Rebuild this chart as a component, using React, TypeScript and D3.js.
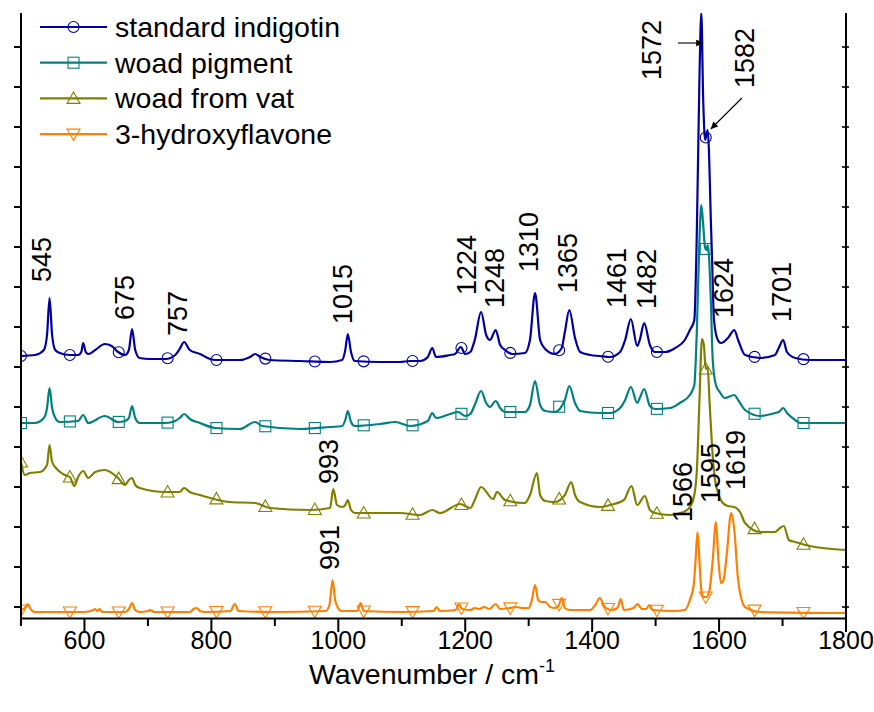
import React from "react";
import * as d3 from "d3";

// ---------- data (wavenumber cm-1, stacked intensity a.u.) ----------
const indigotin: [number, number][] = [
  [500, 251], [522, 252], [536, 257], [541, 272], [545, 309], [549, 272], [554, 257], [561, 254],
  [577, 252], [590, 252], [595, 255], [598, 264], [602, 255], [606, 253], [617, 257], [632, 263],
  [643, 261], [653, 255], [664, 252], [670, 257], [675, 278], [680, 257], [687, 249], [703, 248],
  [728, 248], [743, 252], [750, 258], [757, 265], [766, 257], [782, 253], [798, 248], [806, 247],
  [845, 247], [861, 250], [869, 253], [877, 250], [892, 247], [940, 246], [987, 245], [1006, 247],
  [1011, 257], [1015, 273], [1020, 255], [1026, 246], [1066, 245], [1097, 245], [1113, 246],
  [1129, 246], [1141, 250], [1148, 259], [1154, 250], [1176, 252], [1184, 253], [1193, 260],
  [1200, 253], [1208, 255], [1215, 267], [1225, 295], [1233, 272], [1239, 267], [1248, 277],
  [1255, 262], [1263, 257], [1274, 253], [1294, 254], [1302, 267], [1310, 314], [1318, 267],
  [1326, 258], [1341, 253], [1352, 259], [1357, 275], [1364, 297], [1373, 269], [1381, 255],
  [1397, 252], [1412, 251], [1428, 250], [1444, 255], [1452, 267], [1461, 288], [1471, 261],
  [1475, 267], [1482, 284], [1491, 262], [1499, 255], [1515, 255], [1531, 259], [1546, 267],
  [1554, 277], [1561, 287], [1565, 377], [1569, 527], [1572, 594], [1575, 507], [1578, 467],
  [1580, 472], [1582, 477], [1584, 457], [1587, 387], [1589, 347], [1592, 287], [1598, 267],
  [1603, 264], [1614, 269], [1624, 277], [1630, 267], [1641, 252], [1665, 249], [1688, 252],
  [1694, 259], [1701, 267], [1707, 255], [1720, 249], [1743, 247], [1775, 247], [1800, 247],
];

const woadPigment: [number, number][] = [
  [500, 184], [522, 184], [536, 189], [541, 199], [545, 219], [549, 199], [554, 189], [561, 185],
  [590, 186], [598, 192], [606, 184], [632, 191], [653, 185], [664, 186], [670, 189], [675, 201],
  [680, 189], [687, 184], [728, 184], [743, 186], [750, 189], [757, 193], [766, 188], [782, 184],
  [806, 179], [845, 178], [869, 185], [880, 181], [940, 178], [987, 180], [1006, 181], [1011, 187],
  [1015, 196], [1020, 185], [1026, 181], [1066, 183], [1090, 185], [1113, 181], [1141, 186],
  [1148, 194], [1154, 189], [1176, 193], [1189, 195], [1200, 191], [1208, 193], [1215, 202],
  [1225, 216], [1233, 204], [1239, 200], [1248, 206], [1255, 199], [1263, 195], [1294, 195],
  [1302, 202], [1310, 226], [1318, 202], [1326, 196], [1341, 195], [1357, 207], [1364, 221],
  [1373, 204], [1381, 196], [1412, 194], [1428, 194], [1444, 199], [1452, 207], [1461, 220],
  [1471, 204], [1475, 209], [1482, 218], [1491, 201], [1499, 198], [1523, 199], [1538, 204],
  [1554, 212], [1561, 222], [1565, 277], [1569, 367], [1572, 402], [1575, 382], [1578, 359],
  [1580, 357], [1582, 362], [1584, 352], [1587, 307], [1590, 247], [1595, 222], [1601, 215],
  [1609, 209], [1624, 212], [1630, 207], [1641, 197], [1665, 191], [1688, 194], [1694, 195],
  [1701, 199], [1707, 194], [1720, 187], [1728, 184], [1800, 184],
];

const woadVat: [number, number][] = [
  [500, 145], [506, 132], [514, 134], [530, 135], [541, 142], [545, 162], [549, 145], [558, 137],
  [569, 132], [577, 130], [584, 121], [590, 130], [598, 136], [606, 129], [617, 135], [632, 137],
  [653, 129], [664, 122], [670, 127], [675, 129], [680, 122], [687, 119], [728, 115], [750, 115],
  [757, 119], [766, 115], [782, 112], [829, 105], [869, 104], [892, 99], [955, 97], [987, 99],
  [992, 118], [998, 102], [1006, 100], [1011, 102], [1015, 107], [1020, 97], [1026, 94], [1097, 94],
  [1129, 92], [1148, 97], [1160, 94], [1192, 103], [1208, 99], [1215, 107], [1225, 120], [1244, 108],
  [1250, 115], [1263, 107], [1294, 104], [1302, 112], [1313, 134], [1318, 112], [1326, 106],
  [1341, 105], [1357, 112], [1367, 125], [1373, 112], [1381, 105], [1412, 100], [1428, 102],
  [1450, 107], [1462, 121], [1471, 102], [1483, 111], [1491, 97], [1499, 94], [1523, 92], [1544, 95],
  [1554, 100], [1561, 112], [1565, 137], [1569, 205], [1573, 268], [1576, 262], [1579, 238],
  [1582, 240], [1585, 205], [1589, 160], [1593, 130], [1598, 115], [1606, 104], [1614, 101],
  [1624, 100], [1633, 95], [1641, 84], [1665, 75], [1688, 75], [1696, 79], [1702, 81], [1710, 67],
  [1720, 65], [1743, 61], [1800, 57],
];

const hydroxyflavone: [number, number][] = [
  [500, -3], [506, -1], [511, 3], [514, -1], [522, -5], [600, -5], [614, -3], [617, -2], [620, -4],
  [624, -2], [628, -5], [664, -5], [670, -2], [675, 4], [680, -3], [687, -5], [700, -4], [703, -3],
  [710, -5], [766, -5], [772, -2], [777, -1], [782, -4], [790, -5], [830, -4], [837, 3], [843, -4],
  [900, -5], [980, -4], [986, 2], [991, 27], [995, 7], [998, 1], [1005, -4], [1030, -4], [1035, 4],
  [1040, -4], [1100, -5], [1150, -4], [1155, 0], [1160, -4], [1185, -3], [1190, 3], [1195, -2],
  [1208, -3], [1215, -1], [1222, -2], [1230, 0], [1238, -2], [1248, 3], [1255, -2], [1270, -1],
  [1280, 0], [1290, -1], [1300, -1], [1305, 7], [1310, 22], [1315, 7], [1320, 5], [1326, 5],
  [1334, 0], [1341, -1], [1347, 1], [1352, 9], [1357, -1], [1365, -3], [1397, -3], [1405, 2],
  [1412, 9], [1420, 0], [1430, -3], [1440, -1], [1445, 8], [1450, -3], [1465, -1], [1472, 3],
  [1478, -2], [1485, -2], [1490, 2], [1495, -3], [1530, -4], [1546, -3], [1554, 7], [1560, 22],
  [1563, 47], [1566, 75], [1569, 47], [1572, 17], [1576, 10], [1580, 10], [1585, 17], [1590, 47],
  [1595, 85], [1599, 47], [1603, 24], [1607, 27], [1612, 52], [1619, 94], [1624, 77], [1630, 27],
  [1641, 0], [1665, -5], [1800, -6],
];

const seriesNames = ["standard indigotin", "woad pigment", "woad from vat", "3-hydroxyflavone"];
const seriesColors = ["#0000A0", "#008080", "#808000", "#FF8000"];
const seriesSymbols = ["circle", "square", "triangle", "triangleDown"];
const seriesData = [indigotin, woadPigment, woadVat, hydroxyflavone];

const markerWavenumbers = [500, 577, 654, 731, 808, 885, 963, 1040, 1117, 1194, 1271, 1348, 1425, 1502, 1579, 1656, 1733];

const xTicksMajor = [600, 800, 1000, 1200, 1400, 1600, 1800];
const xTicksMinor = [500, 700, 900, 1100, 1300, 1500, 1700];
const yTicks = [0, 40, 80, 120, 160, 200, 240, 280, 320, 360, 400, 440, 480, 520, 560];

// peak labels: text, label centre wavenumber, bottom intensity
const peakLabels: [string, number, number][] = [
  ["545", 532, 325], ["675", 663, 287], ["757", 747, 271], ["1015", 1007, 283],
  ["1224", 1201, 312], ["1248", 1245, 299], ["1310", 1300, 335], ["1365", 1361, 314],
  ["1461", 1438, 299], ["1482", 1485, 298], ["1624", 1607, 289], ["1701", 1698, 285],
  ["1572", 1493, 527], ["1582", 1639, 519],
  ["993", 984, 123], ["991", 986, 37], ["1566", 1542, 85], ["1595", 1586, 104], ["1619", 1625, 117],
];

// arrows: from (wn, intensity) to (wn, intensity)
const arrows: [number, number, number, number][] = [
  [1535, 564, 1575, 564],
  [1636, 509, 1587, 478],
];

// ---------- layout ----------
const W = 874;
const H = 712;
const x = d3.scaleLinear().domain([500, 1800]).range([21, 846]);
const y = d3.scaleLinear().domain([-11, 594]).range([618, 13]);
const FONT = "'Liberation Sans', Arial, Helvetica, sans-serif";

function interp(data: [number, number][], wn: number): number {
  for (let i = 0; i < data.length - 1; i++) {
    const [x0, y0] = data[i];
    const [x1, y1] = data[i + 1];
    if (wn >= x0 && wn <= x1) return y0 + ((wn - x0) / (x1 - x0)) * (y1 - y0);
  }
  return data[data.length - 1][1];
}

function Marker({ type, cx, cy, color }: { type: string; cx: number; cy: number; color: string }) {
  const common = { fill: "none", stroke: color, strokeWidth: 1.1 };
  if (type === "circle") return <circle cx={cx} cy={cy} r={5.5} {...common} />;
  if (type === "square") return <rect x={cx - 5.5} y={cy - 5.5} width={11} height={11} {...common} />;
  if (type === "triangle") {
    const p = `${cx},${cy - 6.5} ${cx - 6.5},${cy + 5} ${cx + 6.5},${cy + 5}`;
    return <polygon points={p} {...common} />;
  }
  const p = `${cx},${cy + 6.5} ${cx - 6.5},${cy - 5} ${cx + 6.5},${cy - 5}`;
  return <polygon points={p} {...common} />;
}

export default function App() {
  const line = d3
    .line<[number, number]>()
    .x((d) => x(d[0]))
    .y((d) => y(d[1]))
    .curve(d3.curveMonotoneX);

  const fs = 27;

  return (
    <svg
      width={W}
      height={H}
      viewBox={`0 0 ${W} ${H}`}
      style={{ position: "absolute", left: 0, top: 0, background: "#fff" }}
      fontFamily={FONT}
    >
      <defs>
        <clipPath id="plotClip">
          <rect x={21} y={13} width={825} height={605} />
        </clipPath>
        <marker id="arrowHead" viewBox="0 0 10 10" refX="10" refY="5" markerWidth="9" markerHeight="7" orient="auto" markerUnits="userSpaceOnUse">
          <path d="M0,0 L10,5 L0,10 z" fill="#000" />
        </marker>
      </defs>

      {/* series (drawn bottom to top so the top spectrum lies over) */}
      <g clipPath="url(#plotClip)">
        {seriesData
          .map((data, i) => ({ data, i }))
          .reverse()
          .map(({ data, i }) => (
            <g key={i}>
              <path d={line(data) || ""} fill="none" stroke={seriesColors[i]} strokeWidth={2.2} strokeLinejoin="round" />
              {markerWavenumbers.map((wn, k) => (
                <Marker key={k} type={seriesSymbols[i]} cx={x(wn)} cy={y(interp(data, wn))} color={seriesColors[i]} />
              ))}
            </g>
          ))}
      </g>

      {/* axes */}
      <g stroke="#000" strokeWidth={2}>
        <line x1={21} y1={13} x2={21} y2={619} />
        <line x1={846} y1={13} x2={846} y2={619} />
        <line x1={20} y1={618.5} x2={847} y2={618.5} />
        {xTicksMajor.map((t) => (
          <line key={"M" + t} x1={x(t)} x2={x(t)} y1={618.5} y2={632} />
        ))}
        {xTicksMinor.map((t) => (
          <line key={"m" + t} x1={x(t)} x2={x(t)} y1={618.5} y2={626} />
        ))}
        {yTicks.map((t) => (
          <line key={"l" + t} x1={14} x2={21} y1={y(t)} y2={y(t)} />
        ))}
        {yTicks.map((t) => (
          <line key={"r" + t} x1={842} x2={849} y1={y(t)} y2={y(t)} strokeWidth={1.6} />
        ))}
      </g>

      {/* x tick labels */}
      <g fontSize={25} textAnchor="middle" fill="#000">
        {xTicksMajor.map((t) => (
          <text key={t} x={x(t)} y={649}>
            {t}
          </text>
        ))}
      </g>

      {/* axis title */}
      <text x={432} y={684} fontSize={28.5} textAnchor="middle" fill="#000">
        Wavenumber / cm
        <tspan dy={-12} fontSize={18}>
          -1
        </tspan>
      </text>

      {/* peak labels */}
      <g fontSize={fs} fill="#000">
        {peakLabels.map(([t, wn, v], i) => (
          <text key={i} transform={`translate(${x(wn) + fs * 0.36},${y(v)}) rotate(-90)`}>
            {t}
          </text>
        ))}
      </g>

      {/* arrows */}
      {arrows.map(([x0, y0, x1, y1], i) => (
        <line key={i} x1={x(x0)} y1={y(y0)} x2={x(x1)} y2={y(y1)} stroke="#000" strokeWidth={1.1} markerEnd="url(#arrowHead)" />
      ))}

      {/* legend */}
      <g>
        {seriesNames.map((name, i) => {
          const ly = 27 + i * 35.7;
          return (
            <g key={name}>
              <line x1={40} x2={107} y1={ly} y2={ly} stroke={seriesColors[i]} strokeWidth={2.2} />
              <Marker type={seriesSymbols[i]} cx={73.5} cy={ly} color={seriesColors[i]} />
              <text x={115} y={ly + 10} fontSize={28.5} fill="#000">
                {name}
              </text>
            </g>
          );
        })}
      </g>
    </svg>
  );
}
